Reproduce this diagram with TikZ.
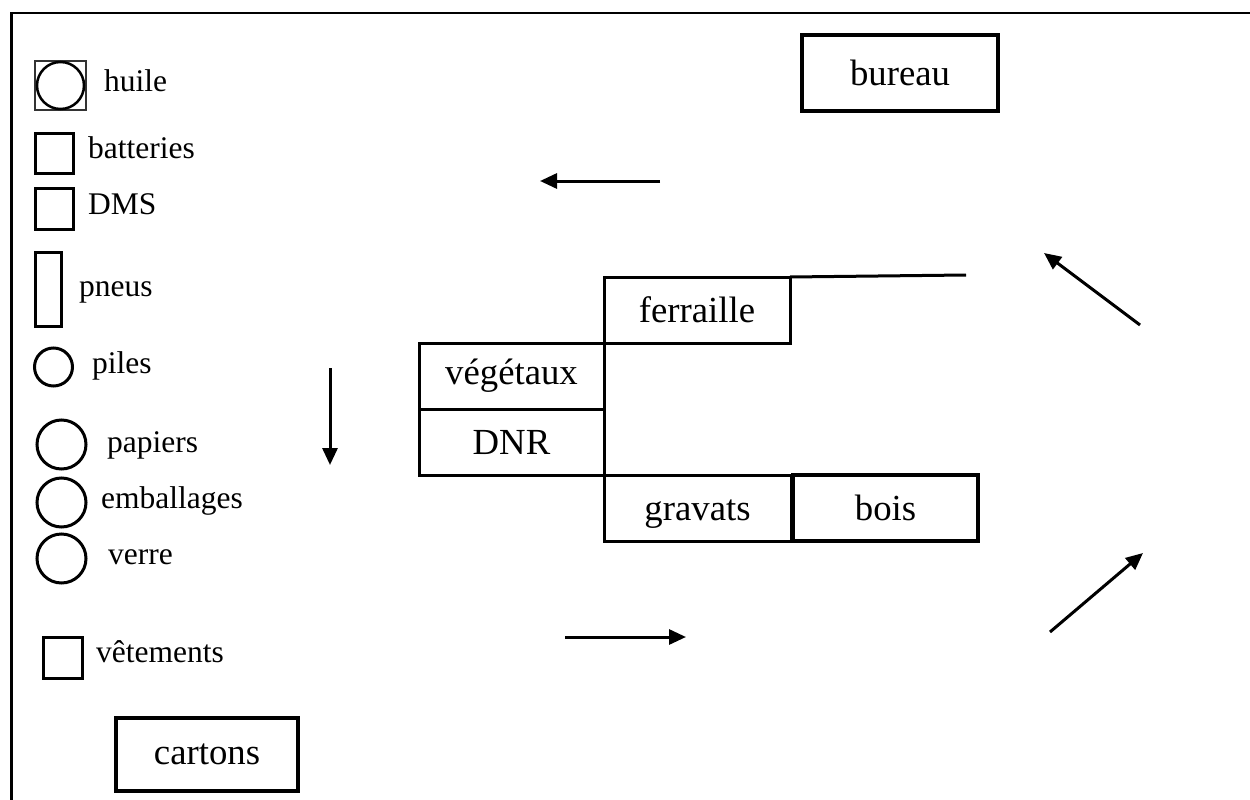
\documentclass[tikz,border=0pt]{standalone}
\usepackage{fontspec}
\setmainfont{Liberation Serif}
\usetikzlibrary{arrows.meta}
\newcommand\smallfs{\fontsize{31.5}{36}\selectfont}
\newcommand\bigfs{\fontsize{36.75}{42}\selectfont}
\tikzset{
  cell/.style={draw, line width=3pt, inner sep=0pt, outer sep=0pt, anchor=north west, font=\bigfs},
  bigcell/.style={cell, line width=4.5pt, font=\bigfs},
  lbl/.style={anchor=base west, inner sep=0pt, font=\smallfs},
  sq/.style={draw, line width=3pt, inner sep=0pt, outer sep=0pt, anchor=north west},
  circ/.style={draw, circle, line width=3pt, inner sep=0pt, outer sep=0pt},
  arr/.style={line width=3pt, -{Triangle[length=17pt,width=15pt]}},
  frame/.style={line width=2.5pt}
}
\begin{document}
\begin{tikzpicture}[x=1pt,y=-1pt]
\useasboundingbox (0,0) rectangle (1250,800);
% frame
\coordinate (fbl) at (11.5,800);
\coordinate (ftl) at (11.5,13);
\coordinate (ftr) at (1250,13);
\draw[frame] (fbl) -- (ftl) -- (ftr);

% legend
\node[sq, line width=1.2pt, draw=black!80, minimum width=51pt, minimum height=49pt] (huilebox) at (35,61) {};
\node[circ, line width=2.5pt, minimum size=47pt] (huilecirc) at (huilebox.center) {};
\node[lbl] (huile) at (104,92) {huile};

\node[sq, minimum width=38pt, minimum height=40pt] (batbox) at (35,133) {};
\node[lbl] (bat) at (88,158) {batteries};

\node[sq, minimum width=38pt, minimum height=41pt] (dmsbox) at (35,188) {};
\node[lbl] (dms) at (88,214) {DMS};

\node[sq, minimum width=26pt, minimum height=74pt] (pneubox) at (35,252) {};
\node[lbl] (pneus) at (79,296) {pneus};

\node[circ, minimum size=38pt] (pilecirc) at (53.5,367) {};
\node[lbl] (piles) at (92,373) {piles};

\node[circ, minimum size=49pt] (papcirc) at (61.5,444.5) {};
\node[lbl] (pap) at (107,452) {papiers};

\node[circ, minimum size=49pt] (embcirc) at (61.5,502.5) {};
\node[lbl] (emb) at (101,508) {emballages};

\node[circ, minimum size=49pt] (vercirc) at (61.5,558.5) {};
\node[lbl] (verre) at (108,564) {verre};

\node[sq, minimum width=39pt, minimum height=41pt] (vetbox) at (43,637) {};
\node[lbl] (vet) at (96,662) {vêtements};

\node[bigcell, line width=3.5pt, minimum width=182pt, minimum height=73pt] (cartons) at (116,718) {cartons};
\node[bigcell, minimum width=196pt, minimum height=76pt] (bureau) at (802,35) {bureau};

% central grid
\node[cell, minimum width=186pt, minimum height=66pt] (ferraille) at (604,277) {ferraille};
\node[cell, minimum width=185pt, minimum height=66pt] (veg) at (419,343) {végétaux};
\node[cell, minimum width=185pt, minimum height=66pt] (dnr) at (419,409) {DNR};
\node[cell, text height=25pt, text depth=0pt, minimum width=187pt, minimum height=66pt] (gravats) at (604,475) {gravats};
\node[cell, text height=25pt, text depth=0pt, line width=3.5pt, minimum width=185pt, minimum height=66pt] (bois) at (793,475) {bois};
\coordinate (ferend) at (966,275);
\draw[line width=3pt] (ferraille.north east) -- (ferend);

% arrows
\coordinate (a1s) at (660,181); \coordinate (a1e) at (540,181);
\draw[arr] (a1s) -- (a1e);
\coordinate (a2s) at (330,368); \coordinate (a2e) at (330,465);
\draw[arr] (a2s) -- (a2e);
\coordinate (a3s) at (565,637); \coordinate (a3e) at (686,637);
\draw[arr] (a3s) -- (a3e);
\coordinate (a4s) at (1050,632); \coordinate (a4e) at (1143,553);
\draw[arr] (a4s) -- (a4e);
\coordinate (a5s) at (1140,325); \coordinate (a5e) at (1044,253);
\draw[arr] (a5s) -- (a5e);
\end{tikzpicture}
\end{document}
